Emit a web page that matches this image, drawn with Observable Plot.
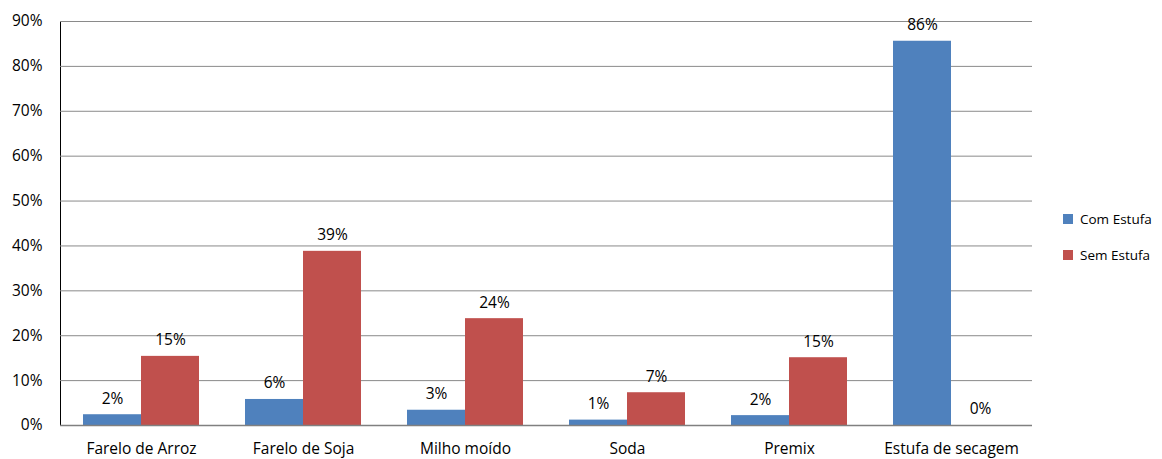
<!DOCTYPE html>
<html>
<head>
<meta charset="utf-8">
<script src="https://cdn.jsdelivr.net/npm/d3@7"></script>
<script src="https://cdn.jsdelivr.net/npm/@observablehq/plot@0.6"></script>
<style>
  html, body { margin: 0; padding: 0; background: #fff; }
  #wrap { position: relative; width: 1162px; height: 459px; font-family: "Open Sans", Lato, sans-serif; }
  #legend { position: absolute; left: 1063px; top: 209px; font-size: 13.5px; color: #000; }
  #legend .item { display: flex; align-items: center; height: 20px; margin-bottom: 16px; }
  #legend .sw { width: 10px; height: 10px; margin-right: 7px; }
</style>
</head>
<body>
<div id="wrap"><div id="chart"></div><div id="legend"></div></div>
<script>
const categories = ["Farelo de Arroz", "Farelo de Soja", "Milho moído", "Soda", "Premix", "Estufa de secagem"];
const series = ["Com Estufa", "Sem Estufa"];
const comEstufa = [2.4, 5.8, 3.4, 1.2, 2.2, 85.6];
const semEstufa = [15.4, 38.8, 23.8, 7.3, 15.1, 0];
const yTicks = [0, 10, 20, 30, 40, 50, 60, 70, 80, 90];
const colors = ["#4F81BD", "#C0504D"];

const data = categories.flatMap((c, i) => [
  {cat: c, series: series[0], value: comEstufa[i]},
  {cat: c, series: series[1], value: semEstufa[i]}
]);

const chart = Plot.plot({
  width: 1162,
  height: 459,
  marginLeft: 59,
  marginRight: 129,
  marginTop: 21,
  marginBottom: 34,
  style: {fontFamily: "'Open Sans', Lato, sans-serif", fontSize: "15.5px", color: "#000"},
  fx: {domain: categories, padding: 0, label: null, tickSize: 0, tickPadding: 17},
  x: {domain: series, axis: null, paddingInner: 0, paddingOuter: 0.375},
  y: {domain: [0, 90], ticks: yTicks, tickFormat: d => d + "%", label: null, tickSize: 0, tickPadding: 18, line: true},
  color: {domain: series, range: colors},
  marks: [
    Plot.ruleY(yTicks, {stroke: "#8a8a8a", strokeWidth: 1}),
    Plot.barY(data, {fx: "cat", x: "series", y: "value", fill: "series"}),
    Plot.text(data, {fx: "cat", x: "series", y: "value", text: d => Math.round(d.value) + "%", dy: -16, fill: "#000"}),
    Plot.ruleY([0], {stroke: "#808080", strokeWidth: 1.5})
  ]
});
d3.select(chart).selectAll("[aria-label='y-axis'] path, [aria-label='y-axis'] line").attr("stroke", "#808080");
document.getElementById("chart").appendChild(chart);

const legend = document.getElementById("legend");
series.forEach((s, i) => {
  const item = document.createElement("div");
  item.className = "item";
  item.innerHTML = `<div class="sw" style="background:${colors[i]}"></div><span>${s}</span>`;
  legend.appendChild(item);
});
</script>
</body>
</html>
